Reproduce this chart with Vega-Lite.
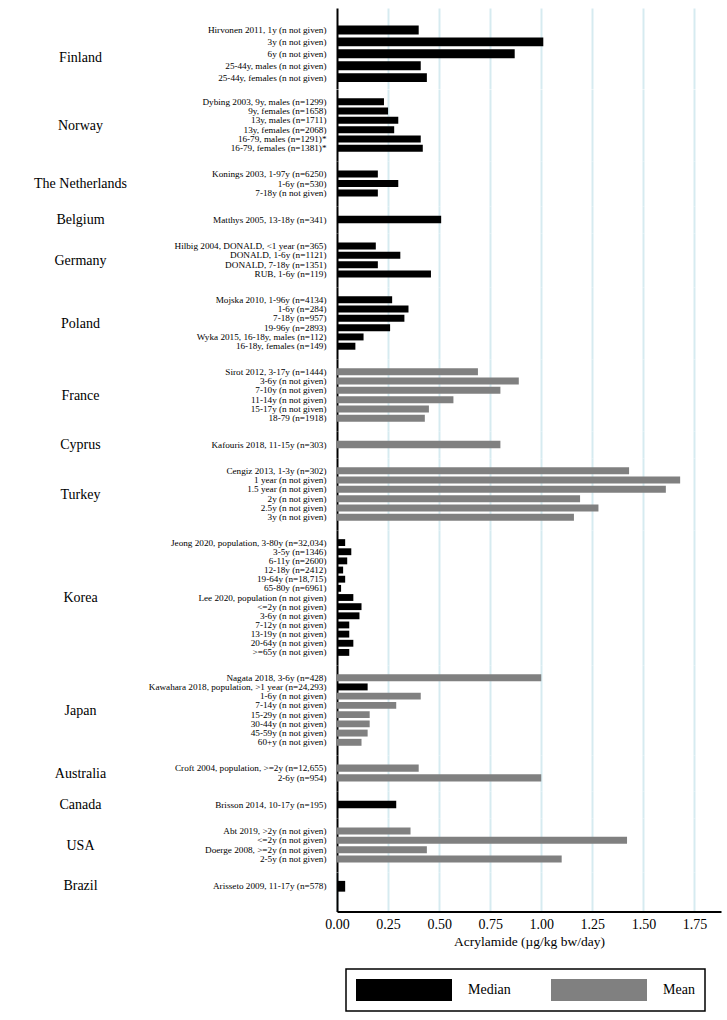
{
  "$schema": "https://vega.github.io/schema/vega-lite/v6.json",
  "background": "white",
  "padding": {"left": 33, "top": 8, "right": 5, "bottom": 5},
  "spacing": 0,
  "bounds": "flush",
  "data": {"values": [
    {"country": "Finland", "label": "Hirvonen 2011, 1y (n not given)", "value": 0.40, "stat": "Median"},
    {"country": "Finland", "label": "3y (n not given)", "value": 1.01, "stat": "Median"},
    {"country": "Finland", "label": "6y (n not given)", "value": 0.87, "stat": "Median"},
    {"country": "Finland", "label": "25-44y, males (n not given)", "value": 0.41, "stat": "Median"},
    {"country": "Finland", "label": "25-44y, females (n not given)", "value": 0.44, "stat": "Median"},
    {"country": "Norway", "label": "Dybing 2003, 9y, males (n=1299)", "value": 0.23, "stat": "Median"},
    {"country": "Norway", "label": "9y, females (n=1658)", "value": 0.25, "stat": "Median"},
    {"country": "Norway", "label": "13y, males (n=1711)", "value": 0.30, "stat": "Median"},
    {"country": "Norway", "label": "13y, females (n=2068)", "value": 0.28, "stat": "Median"},
    {"country": "Norway", "label": "16-79, males (n=1291)*", "value": 0.41, "stat": "Median"},
    {"country": "Norway", "label": "16-79, females (n=1381)*", "value": 0.42, "stat": "Median"},
    {"country": "The Netherlands", "label": "Konings 2003, 1-97y (n=6250)", "value": 0.20, "stat": "Median"},
    {"country": "The Netherlands", "label": "1-6y (n=530)", "value": 0.30, "stat": "Median"},
    {"country": "The Netherlands", "label": "7-18y (n not given)", "value": 0.20, "stat": "Median"},
    {"country": "Belgium", "label": "Matthys 2005, 13-18y (n=341)", "value": 0.51, "stat": "Median"},
    {"country": "Germany", "label": "Hilbig 2004, DONALD, <1 year (n=365)", "value": 0.19, "stat": "Median"},
    {"country": "Germany", "label": "DONALD, 1-6y (n=1121)", "value": 0.31, "stat": "Median"},
    {"country": "Germany", "label": "DONALD, 7-18y (n=1351)", "value": 0.20, "stat": "Median"},
    {"country": "Germany", "label": "RUB, 1-6y (n=119)", "value": 0.46, "stat": "Median"},
    {"country": "Poland", "label": "Mojska 2010, 1-96y (n=4134)", "value": 0.27, "stat": "Median"},
    {"country": "Poland", "label": "1-6y (n=284)", "value": 0.35, "stat": "Median"},
    {"country": "Poland", "label": "7-18y (n=957)", "value": 0.33, "stat": "Median"},
    {"country": "Poland", "label": "19-96y  (n=2893)", "value": 0.26, "stat": "Median"},
    {"country": "Poland", "label": "Wyka 2015, 16-18y, males (n=112)", "value": 0.13, "stat": "Median"},
    {"country": "Poland", "label": "16-18y, females (n=149)", "value": 0.09, "stat": "Median"},
    {"country": "France", "label": "Sirot 2012, 3-17y (n=1444)", "value": 0.69, "stat": "Mean"},
    {"country": "France", "label": "3-6y (n not given)", "value": 0.89, "stat": "Mean"},
    {"country": "France", "label": "7-10y (n not given)", "value": 0.80, "stat": "Mean"},
    {"country": "France", "label": "11-14y (n not given)", "value": 0.57, "stat": "Mean"},
    {"country": "France", "label": "15-17y (n not given)", "value": 0.45, "stat": "Mean"},
    {"country": "France", "label": "18-79 (n=1918)", "value": 0.43, "stat": "Mean"},
    {"country": "Cyprus", "label": "Kafouris 2018, 11-15y (n=303)", "value": 0.80, "stat": "Mean"},
    {"country": "Turkey", "label": "Cengiz 2013, 1-3y  (n=302)", "value": 1.43, "stat": "Mean"},
    {"country": "Turkey", "label": "1 year (n not given)", "value": 1.68, "stat": "Mean"},
    {"country": "Turkey", "label": "1.5 year (n not given)", "value": 1.61, "stat": "Mean"},
    {"country": "Turkey", "label": "2y (n not given)", "value": 1.19, "stat": "Mean"},
    {"country": "Turkey", "label": "2.5y (n not given)", "value": 1.28, "stat": "Mean"},
    {"country": "Turkey", "label": "3y (n not given)", "value": 1.16, "stat": "Mean"},
    {"country": "Korea", "label": "Jeong 2020, population, 3-80y (n=32,034)", "value": 0.04, "stat": "Median"},
    {"country": "Korea", "label": "3-5y (n=1346)", "value": 0.07, "stat": "Median"},
    {"country": "Korea", "label": "6-11y (n=2600)", "value": 0.05, "stat": "Median"},
    {"country": "Korea", "label": "12-18y (n=2412)", "value": 0.03, "stat": "Median"},
    {"country": "Korea", "label": "19-64y (n=18,715)", "value": 0.04, "stat": "Median"},
    {"country": "Korea", "label": "65-80y (n=6961)", "value": 0.02, "stat": "Median"},
    {"country": "Korea", "label": "Lee 2020, population (n not given)", "value": 0.08, "stat": "Median"},
    {"country": "Korea", "label": "<=2y (n not given)", "value": 0.12, "stat": "Median"},
    {"country": "Korea", "label": "3-6y (n not given)", "value": 0.11, "stat": "Median"},
    {"country": "Korea", "label": "7-12y (n not given)", "value": 0.06, "stat": "Median"},
    {"country": "Korea", "label": "13-19y (n not given)", "value": 0.06, "stat": "Median"},
    {"country": "Korea", "label": "20-64y (n not given)", "value": 0.08, "stat": "Median"},
    {"country": "Korea", "label": ">=65y (n not given)", "value": 0.06, "stat": "Median"},
    {"country": "Japan", "label": "Nagata 2018, 3-6y (n=428)", "value": 1.00, "stat": "Mean"},
    {"country": "Japan", "label": "Kawahara 2018, population, >1 year (n=24,293)", "value": 0.15, "stat": "Median"},
    {"country": "Japan", "label": "1-6y (n not given)", "value": 0.41, "stat": "Mean"},
    {"country": "Japan", "label": "7-14y (n not given)", "value": 0.29, "stat": "Mean"},
    {"country": "Japan", "label": "15-29y (n not given)", "value": 0.16, "stat": "Mean"},
    {"country": "Japan", "label": "30-44y (n not given)", "value": 0.16, "stat": "Mean"},
    {"country": "Japan", "label": "45-59y (n not given)", "value": 0.15, "stat": "Mean"},
    {"country": "Japan", "label": "60+y (n not given)", "value": 0.12, "stat": "Mean"},
    {"country": "Australia", "label": "Croft 2004, population, >=2y (n=12,655)", "value": 0.40, "stat": "Mean"},
    {"country": "Australia", "label": "2-6y (n=954)", "value": 1.00, "stat": "Mean"},
    {"country": "Canada", "label": "Brisson 2014, 10-17y (n=195)", "value": 0.29, "stat": "Median"},
    {"country": "USA", "label": "Abt 2019, >2y (n not given)", "value": 0.36, "stat": "Mean"},
    {"country": "USA", "label": "<=2y (n not given)", "value": 1.42, "stat": "Mean"},
    {"country": "USA", "label": "Doerge 2008, >=2y (n not given)", "value": 0.44, "stat": "Mean"},
    {"country": "USA", "label": "2-5y (n not given)", "value": 1.10, "stat": "Mean"},
    {"country": "Brazil", "label": "Arisseto 2009, 11-17y  (n=578)", "value": 0.04, "stat": "Median"}
  ]},
  "vconcat": [
    {"transform": [{"filter": "datum.country === 'Finland'"}], "width": 384, "height": 80.5, "mark": "bar",
     "encoding": {
       "y": {"field": "label", "type": "nominal", "sort": null, "scale": {"paddingInner": 0.25, "paddingOuter": 2.097, "align": 0.7318}, "axis": {"title": "Finland", "titleY": 49}},
       "x": {"field": "value", "type": "quantitative", "scale": {"domain": [0, 1.88], "nice": false}, "axis": {"title": null, "labels": false, "domain": false, "values": [0.25, 0.5, 0.75, 1, 1.25, 1.5, 1.75]}},
       "fill": {"field": "stat", "type": "nominal", "title": null, "scale": {"domain": ["Median", "Mean"], "range": ["#000000", "#808080"]}}}},
    {"transform": [{"filter": "datum.country === 'Norway'"}], "width": 384, "height": {"step": 9}, "mark": "bar",
     "encoding": {
       "y": {"field": "label", "type": "nominal", "sort": null, "scale": {"paddingInner": 0.25, "paddingOuter": 1.125}, "axis": {"title": "Norway", "titleY": 36}},
       "x": {"field": "value", "type": "quantitative", "scale": {"domain": [0, 1.88], "nice": false}, "axis": {"title": null, "labels": false, "domain": false, "values": [0.25, 0.5, 0.75, 1, 1.25, 1.5, 1.75]}},
       "fill": {"field": "stat", "type": "nominal", "title": null, "scale": {"domain": ["Median", "Mean"], "range": ["#000000", "#808080"]}}}},
    {"transform": [{"filter": "datum.country === 'The Netherlands'"}], "width": 384, "height": {"step": 9}, "mark": "bar",
     "encoding": {
       "y": {"field": "label", "type": "nominal", "sort": null, "scale": {"paddingInner": 0.25, "paddingOuter": 1.125}, "axis": {"title": "The Netherlands", "titleY": 22.5}},
       "x": {"field": "value", "type": "quantitative", "scale": {"domain": [0, 1.88], "nice": false}, "axis": {"title": null, "labels": false, "domain": false, "values": [0.25, 0.5, 0.75, 1, 1.25, 1.5, 1.75]}},
       "fill": {"field": "stat", "type": "nominal", "title": null, "scale": {"domain": ["Median", "Mean"], "range": ["#000000", "#808080"]}}}},
    {"transform": [{"filter": "datum.country === 'Belgium'"}], "width": 384, "height": {"step": 9}, "mark": "bar",
     "encoding": {
       "y": {"field": "label", "type": "nominal", "sort": null, "scale": {"paddingInner": 0.25, "paddingOuter": 1.125}, "axis": {"title": "Belgium", "titleY": 13.5}},
       "x": {"field": "value", "type": "quantitative", "scale": {"domain": [0, 1.88], "nice": false}, "axis": {"title": null, "labels": false, "domain": false, "values": [0.25, 0.5, 0.75, 1, 1.25, 1.5, 1.75]}},
       "fill": {"field": "stat", "type": "nominal", "title": null, "scale": {"domain": ["Median", "Mean"], "range": ["#000000", "#808080"]}}}},
    {"transform": [{"filter": "datum.country === 'Germany'"}], "width": 384, "height": {"step": 9}, "mark": "bar",
     "encoding": {
       "y": {"field": "label", "type": "nominal", "sort": null, "scale": {"paddingInner": 0.25, "paddingOuter": 1.125}, "axis": {"title": "Germany", "titleY": 27}},
       "x": {"field": "value", "type": "quantitative", "scale": {"domain": [0, 1.88], "nice": false}, "axis": {"title": null, "labels": false, "domain": false, "values": [0.25, 0.5, 0.75, 1, 1.25, 1.5, 1.75]}},
       "fill": {"field": "stat", "type": "nominal", "title": null, "scale": {"domain": ["Median", "Mean"], "range": ["#000000", "#808080"]}}}},
    {"transform": [{"filter": "datum.country === 'Poland'"}], "width": 384, "height": {"step": 9}, "mark": "bar",
     "encoding": {
       "y": {"field": "label", "type": "nominal", "sort": null, "scale": {"paddingInner": 0.25, "paddingOuter": 1.125}, "axis": {"title": "Poland", "titleY": 36}},
       "x": {"field": "value", "type": "quantitative", "scale": {"domain": [0, 1.88], "nice": false}, "axis": {"title": null, "labels": false, "domain": false, "values": [0.25, 0.5, 0.75, 1, 1.25, 1.5, 1.75]}},
       "fill": {"field": "stat", "type": "nominal", "title": null, "scale": {"domain": ["Median", "Mean"], "range": ["#000000", "#808080"]}}}},
    {"transform": [{"filter": "datum.country === 'France'"}], "width": 384, "height": {"step": 9}, "mark": "bar",
     "encoding": {
       "y": {"field": "label", "type": "nominal", "sort": null, "scale": {"paddingInner": 0.25, "paddingOuter": 1.125}, "axis": {"title": "France", "titleY": 36}},
       "x": {"field": "value", "type": "quantitative", "scale": {"domain": [0, 1.88], "nice": false}, "axis": {"title": null, "labels": false, "domain": false, "values": [0.25, 0.5, 0.75, 1, 1.25, 1.5, 1.75]}},
       "fill": {"field": "stat", "type": "nominal", "title": null, "scale": {"domain": ["Median", "Mean"], "range": ["#000000", "#808080"]}}}},
    {"transform": [{"filter": "datum.country === 'Cyprus'"}], "width": 384, "height": {"step": 9}, "mark": "bar",
     "encoding": {
       "y": {"field": "label", "type": "nominal", "sort": null, "scale": {"paddingInner": 0.25, "paddingOuter": 1.125}, "axis": {"title": "Cyprus", "titleY": 13.5}},
       "x": {"field": "value", "type": "quantitative", "scale": {"domain": [0, 1.88], "nice": false}, "axis": {"title": null, "labels": false, "domain": false, "values": [0.25, 0.5, 0.75, 1, 1.25, 1.5, 1.75]}},
       "fill": {"field": "stat", "type": "nominal", "title": null, "scale": {"domain": ["Median", "Mean"], "range": ["#000000", "#808080"]}}}},
    {"transform": [{"filter": "datum.country === 'Turkey'"}], "width": 384, "height": {"step": 9}, "mark": "bar",
     "encoding": {
       "y": {"field": "label", "type": "nominal", "sort": null, "scale": {"paddingInner": 0.25, "paddingOuter": 1.125}, "axis": {"title": "Turkey", "titleY": 36}},
       "x": {"field": "value", "type": "quantitative", "scale": {"domain": [0, 1.88], "nice": false}, "axis": {"title": null, "labels": false, "domain": false, "values": [0.25, 0.5, 0.75, 1, 1.25, 1.5, 1.75]}},
       "fill": {"field": "stat", "type": "nominal", "title": null, "scale": {"domain": ["Median", "Mean"], "range": ["#000000", "#808080"]}}}},
    {"transform": [{"filter": "datum.country === 'Korea'"}], "width": 384, "height": {"step": 9}, "mark": "bar",
     "encoding": {
       "y": {"field": "label", "type": "nominal", "sort": null, "scale": {"paddingInner": 0.25, "paddingOuter": 1.125}, "axis": {"title": "Korea", "titleY": 67.5}},
       "x": {"field": "value", "type": "quantitative", "scale": {"domain": [0, 1.88], "nice": false}, "axis": {"title": null, "labels": false, "domain": false, "values": [0.25, 0.5, 0.75, 1, 1.25, 1.5, 1.75]}},
       "fill": {"field": "stat", "type": "nominal", "title": null, "scale": {"domain": ["Median", "Mean"], "range": ["#000000", "#808080"]}}}},
    {"transform": [{"filter": "datum.country === 'Japan'"}], "width": 384, "height": {"step": 9}, "mark": "bar",
     "encoding": {
       "y": {"field": "label", "type": "nominal", "sort": null, "scale": {"paddingInner": 0.25, "paddingOuter": 1.125}, "axis": {"title": "Japan", "titleY": 45}},
       "x": {"field": "value", "type": "quantitative", "scale": {"domain": [0, 1.88], "nice": false}, "axis": {"title": null, "labels": false, "domain": false, "values": [0.25, 0.5, 0.75, 1, 1.25, 1.5, 1.75]}},
       "fill": {"field": "stat", "type": "nominal", "title": null, "scale": {"domain": ["Median", "Mean"], "range": ["#000000", "#808080"]}}}},
    {"transform": [{"filter": "datum.country === 'Australia'"}], "width": 384, "height": {"step": 9}, "mark": "bar",
     "encoding": {
       "y": {"field": "label", "type": "nominal", "sort": null, "scale": {"paddingInner": 0.25, "paddingOuter": 1.125}, "axis": {"title": "Australia", "titleY": 18}},
       "x": {"field": "value", "type": "quantitative", "scale": {"domain": [0, 1.88], "nice": false}, "axis": {"title": null, "labels": false, "domain": false, "values": [0.25, 0.5, 0.75, 1, 1.25, 1.5, 1.75]}},
       "fill": {"field": "stat", "type": "nominal", "title": null, "scale": {"domain": ["Median", "Mean"], "range": ["#000000", "#808080"]}}}},
    {"transform": [{"filter": "datum.country === 'Canada'"}], "width": 384, "height": {"step": 9}, "mark": "bar",
     "encoding": {
       "y": {"field": "label", "type": "nominal", "sort": null, "scale": {"paddingInner": 0.25, "paddingOuter": 1.125}, "axis": {"title": "Canada", "titleY": 13.5}},
       "x": {"field": "value", "type": "quantitative", "scale": {"domain": [0, 1.88], "nice": false}, "axis": {"title": null, "labels": false, "domain": false, "values": [0.25, 0.5, 0.75, 1, 1.25, 1.5, 1.75]}},
       "fill": {"field": "stat", "type": "nominal", "title": null, "scale": {"domain": ["Median", "Mean"], "range": ["#000000", "#808080"]}}}},
    {"transform": [{"filter": "datum.country === 'USA'"}], "width": 384, "height": {"step": 9}, "mark": "bar",
     "encoding": {
       "y": {"field": "label", "type": "nominal", "sort": null, "scale": {"paddingInner": 0.25, "paddingOuter": 1.125}, "axis": {"title": "USA", "titleY": 27}},
       "x": {"field": "value", "type": "quantitative", "scale": {"domain": [0, 1.88], "nice": false}, "axis": {"title": null, "labels": false, "domain": false, "values": [0.25, 0.5, 0.75, 1, 1.25, 1.5, 1.75]}},
       "fill": {"field": "stat", "type": "nominal", "title": null, "scale": {"domain": ["Median", "Mean"], "range": ["#000000", "#808080"]}}}},
    {"transform": [{"filter": "datum.country === 'Brazil'"}], "width": 384, "height": 39.5, "mark": "bar",
     "encoding": {
       "y": {"field": "label", "type": "nominal", "sort": null, "scale": {"paddingInner": 0.25, "paddingOuter": 1.8194, "align": 0.3092}, "axis": {"title": "Brazil", "titleY": 13.5}},
       "x": {"field": "value", "type": "quantitative", "scale": {"domain": [0, 1.88], "nice": false},
             "axis": {"title": "Acrylamide (µg/kg bw/day)", "values": [0, 0.25, 0.5, 0.75, 1, 1.25, 1.5, 1.75], "format": ".2f", "labels": true, "domain": true, "domainColor": "#000000", "domainWidth": 2, "labelFlush": false, "labelOverlap": false, "labelFontSize": 14, "labelPadding": 6, "titleFontSize": 13.5, "titlePadding": 3}},
       "fill": {"field": "stat", "type": "nominal", "title": null, "scale": {"domain": ["Median", "Mean"], "range": ["#000000", "#808080"]}}}}
  ],
  "config": {
    "view": {"stroke": null},
    "font": "Liberation Serif",
    "axisY": {"domainColor": "#000000", "domainWidth": 2, "ticks": false, "grid": false, "labelFont": "Liberation Serif", "labelFontSize": 9.2, "labelColor": "#000000", "labelPadding": 11, "labelLimit": 0, "titleFont": "Liberation Serif", "titleFontSize": 14, "titleFontWeight": "normal", "titleColor": "#000000", "titleAngle": 0, "titleAlign": "center", "titleBaseline": "middle", "titleX": -257},
    "axisX": {"grid": true, "gridColor": "#d6ebf0", "gridWidth": 2, "ticks": false, "labelFont": "Liberation Serif", "labelColor": "#000000", "titleFont": "Liberation Serif", "titleFontWeight": "normal", "titleColor": "#000000"},
    "legend": {"orient": "none", "legendX": 9, "legendY": 961, "direction": "horizontal", "columns": 2, "gridAlign": "all", "clipHeight": 22, "symbolType": "M-1,-0.229H1V0.229H-1Z", "symbolSize": 9216, "symbolStrokeWidth": 0, "symbolOpacity": 1, "labelFont": "Liberation Serif", "labelFontSize": 14, "labelColor": "#000000", "labelOffset": 16, "columnPadding": 40, "strokeColor": "#000000", "strokeWidth": 1.5, "fillColor": "#ffffff", "padding": 10}
  }
}
